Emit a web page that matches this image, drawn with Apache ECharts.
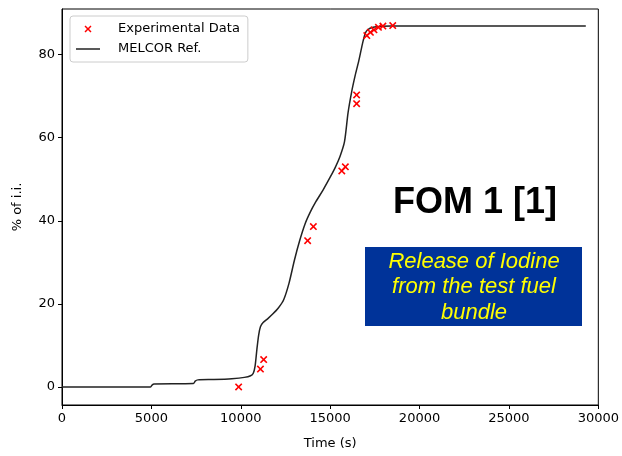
<!DOCTYPE html>
<html>
<head>
<meta charset="utf-8">
<script src="https://cdn.jsdelivr.net/npm/echarts@6/dist/echarts.min.js"></script>
<style>
  html, body { margin: 0; padding: 0; background: #fff; }
  #chart { width: 622px; height: 456px; }
</style>
</head>
<body>
<div id="chart"></div>
<script>
  // MELCOR reference curve (time in s, % of initial inventory)
  const refTime = [0, 4950, 5050, 5150, 7350, 7450, 7600, 8500, 9500, 10200, 10550, 10700, 10800, 10900, 11000,
    11100, 11250, 11500, 11800, 12100, 12400, 12700, 13000, 13300, 13600, 13900, 14200, 14600, 15000, 15300,
    15550, 15800, 16000, 16200, 16400, 16600, 16800, 16950, 17100, 17400, 17900, 18400, 29300]
  const refPct = [0, 0, 0.5, 0.7, 0.8, 1.4, 1.7, 1.8, 2.0, 2.3, 2.7, 3.3, 5, 9, 12.5,
    14.5, 15.5, 16.4, 17.6, 19, 21, 25, 30.5, 35.3, 39.3, 42.2, 44.6, 47.4, 50.5, 53,
    55.5, 59, 66, 71, 75, 78.5, 82.5, 85, 86, 86.6, 86.85, 86.9, 86.9]

  // experimental points
  const expTime = [9880, 11100, 11280, 13740, 14060, 15650, 15850, 16480, 16480, 17050, 17250, 17450, 17700, 17950, 18500]
  const expPct = [0, 4.3, 6.6, 35.2, 38.6, 52.0, 53.0, 68.2, 70.3, 84.6, 85.4, 86.0, 86.6, 86.9, 87.0]

  const yTicks = [0, 20, 40, 60, 80]

  const font = 'DejaVu Sans'
  // x marker, padded so the glyph sits in the middle half of its box
  const crossPath = 'path://M0,0 M20,20 M5,6.5 L6.5,5 L10,8.5 L13.5,5 L15,6.5 L11.5,10 L15,13.5 L13.5,15 L10,11.5 L6.5,15 L5,13.5 L8.5,10 Z'
  const lineIcon = 'path://M0,0 M24,14 M0,6.25 L24,6.25 L24,7.75 L0,7.75 Z'

  const chart = echarts.init(document.getElementById('chart'))
  const option = {
    animation: false,
    textStyle: { fontFamily: font, color: '#000' },
    grid: {
      left: 62, right: 22, top: 9, bottom: 51,
      show: true, borderColor: '#000', borderWidth: 1
    },
    legend: {
      orient: 'vertical',
      left: 70, top: 16,
      padding: [6, 8, 6, 6],
      itemWidth: 24, itemHeight: 14, itemGap: 6,
      borderColor: '#ccc', borderWidth: 1, borderRadius: 3,
      backgroundColor: '#fff',
      textStyle: { fontFamily: font, fontSize: 13, color: '#000', padding: [0, 0, 0, 13] },
      data: [
        { name: 'Experimental Data' },
        { name: 'MELCOR Ref.', icon: lineIcon, itemStyle: { color: '#222' } }
      ]
    },
    xAxis: {
      type: 'value',
      min: 0, max: 30000, interval: 5000,
      name: 'Time (s)', nameLocation: 'middle', nameGap: 32,
      nameTextStyle: { fontFamily: font, fontSize: 13, color: '#000' },
      axisLine: { show: true, onZero: false, lineStyle: { color: '#000', width: 1 } },
      axisTick: { show: true, length: 4, lineStyle: { color: '#000' } },
      axisLabel: { fontFamily: font, fontSize: 13, color: '#000', margin: 7, formatter: v => String(v) },
      splitLine: { show: false }
    },
    yAxis: {
      type: 'value',
      min: -4.35, max: 91,
      name: '% of i.i.', nameLocation: 'middle', nameGap: 38,
      nameTextStyle: { fontFamily: font, fontSize: 13, color: '#000' },
      axisLine: { show: true, onZero: false, lineStyle: { color: '#000', width: 1 } },
      axisTick: { show: true, length: 4, customValues: yTicks, lineStyle: { color: '#000' } },
      axisLabel: { fontFamily: font, fontSize: 13, color: '#000', margin: 7, customValues: yTicks },
      splitLine: { show: false }
    },
    series: [
      {
        name: 'MELCOR Ref.',
        type: 'line',
        symbol: 'none',
        smooth: 0.25,
        z: 2,
        lineStyle: { color: '#222', width: 1.5 },
        itemStyle: { color: '#222' },
        data: refTime.map((t, i) => [t, refPct[i]])
      },
      {
        name: 'Experimental Data',
        type: 'scatter',
        symbol: crossPath,
        symbolSize: 15,
        z: 3,
        itemStyle: { color: '#ff0000', opacity: 1 },
        data: expTime.map((t, i) => [t, expPct[i]])
      }
    ],
    graphic: [
      {
        type: 'text',
        x: 475, y: 221,
        style: {
          text: 'FOM 1 [1]',
          align: 'center', verticalAlign: 'bottom',
          font: 'bold 36px "Liberation Sans", Arial, sans-serif',
          fill: '#000'
        }
      },
      {
        type: 'group',
        x: 365, y: 247,
        children: [
          {
            type: 'rect',
            shape: { x: 0, y: 0, width: 217, height: 79 },
            style: { fill: '#003399' }
          },
          {
            type: 'text',
            x: 109, y: 2,
            style: {
              text: 'Release of Iodine\nfrom the test fuel\nbundle',
              align: 'center', verticalAlign: 'top',
              lineHeight: 25.5,
              font: 'italic 22px "Liberation Sans", Arial, sans-serif',
              fill: '#ffff00'
            }
          }
        ]
      }
    ]
  }
  chart.setOption(option)
</script>
</body>
</html>
